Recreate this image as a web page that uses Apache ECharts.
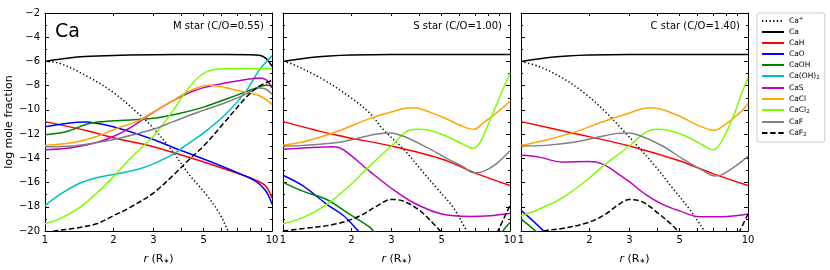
<!DOCTYPE html>
<html><head><meta charset="utf-8">
<script src="https://cdn.jsdelivr.net/npm/echarts@6/dist/echarts.min.js"></script>
<style>html,body{margin:0;padding:0;background:#fff}#c{width:830px;height:270px}</style>
</head><body><div id="c"></div>
<script>
// ---- data: [r (R*), log mole fraction] ----
const speciesNames = ['Ca+','Ca','CaH','CaO','CaOH','Ca(OH)2','CaS','CaCl','CaCl2','CaF','CaF2'];
const panelTitles = ['M star (C/O=0.55)','S star (C/O=1.00)','C star (C/O=1.40)'];
const xTickValues = [1,2,3,4,5,6,7,8,9,10];
const xLabelValues = [1,2,3,5,10];

// M star
const M_CaPlus = [[1,-6],[1.16,-6.15],[1.58,-7.36],[2,-8.56],[2.53,-10.17],[3,-11.5],[3.67,-13.5],[4.34,-15.4],[5.14,-17.0],[5.89,-18.6],[6.4,-20],[7,-21.5]];
const M_Ca = [[1,-6],[1.2,-5.78],[1.5,-5.6],[2,-5.5],[3,-5.45],[5,-5.43],[8,-5.45],[8.8,-5.48],[9.4,-5.75],[10,-6.4]];
const M_CaH = [[1,-10.97],[1.58,-11.78],[2,-12.3],[3,-13.04],[5,-14.3],[7.2,-15.3],[8.5,-15.8],[9.4,-16.3],[10,-17.3]];
const M_CaO = [[1,-11.4],[1.5,-11.0],[2,-11.4],[3,-12.45],[3.67,-13.1],[5,-14.05],[7.2,-15.26],[8.5,-15.9],[9.4,-16.7],[10,-17.8]];
const M_CaOH = [[1,-12.05],[1.25,-11.78],[1.58,-11.1],[2,-10.9],[3,-10.7],[3.9,-10.3],[5,-9.77],[6.3,-9.1],[7.7,-8.5],[9.1,-8.0],[9.6,-7.95],[10,-8.15]];
const M_CaOH2 = [[1,-17.9],[1.16,-17.0],[1.42,-16.06],[1.69,-15.6],[2,-15.34],[2.62,-14.86],[3,-14.46],[3.67,-13.65],[4.34,-12.7],[5,-11.9],[6.3,-10.3],[7.7,-8.43],[8.8,-6.7],[10,-5.54]];
const M_CaS = [[1,-13.3],[1.33,-13.1],[1.69,-12.7],[2,-12.2],[2.36,-11.5],[3,-10.2],[3.67,-9.23],[4.34,-8.56],[5,-8.16],[6.3,-7.76],[7.7,-7.49],[8.8,-7.36],[9.4,-7.5],[10,-8.16]];
const M_CaCl = [[1,-12.93],[1.33,-12.7],[1.69,-12.2],[2,-11.64],[2.62,-10.84],[3,-10.17],[3.67,-9.23],[4.34,-8.43],[5.3,-7.97],[6.2,-8.15],[7.2,-8.43],[8.8,-8.83],[10,-9.55]];
const M_CaCl2 = [[1,-19.4],[1.16,-19.0],[1.42,-18.07],[1.69,-16.87],[2,-15.53],[2.36,-14.05],[3,-12.18],[3.67,-10.04],[4.2,-8.43],[4.8,-7.22],[5.5,-6.69],[6.3,-6.61],[8,-6.61],[10,-6.61]];
const M_CaF = [[1,-13.04],[1.33,-12.98],[1.69,-12.7],[2,-12.45],[2.62,-11.9],[3,-11.6],[3.67,-10.97],[4.34,-10.44],[5,-10.04],[6.3,-9.37],[7.7,-8.7],[8.8,-8.2],[9.4,-8.3],[10,-8.7]];
const M_CaF2 = [[1,-20.2],[1.1,-20.0],[1.33,-19.8],[1.69,-19.4],[2,-18.74],[2.36,-18.07],[3,-16.87],[3.67,-15.4],[4.34,-14.05],[5,-12.98],[6.3,-10.84],[7.7,-8.96],[8.8,-8.03],[10,-7.57]];

// S star
const S_CaPlus = [[1,-6],[1.077,-6.15],[1.46,-7.36],[1.98,-8.96],[2.42,-10.3],[2.77,-11.64],[3.4,-13.25],[4.02,-14.86],[4.76,-16.47],[5.63,-18.07],[6.44,-20],[7,-21.3]];
const S_Ca = [[1,-6],[1.3,-5.7],[1.6,-5.55],[2,-5.47],[3,-5.43],[5,-5.43],[10,-5.43]];
const S_CaH = [[1,-10.97],[1.73,-12.1],[3,-12.98],[5,-14.05],[7,-15.2],[10,-16.25]];
const S_CaO = [[1,-15.4],[1.23,-16.3],[1.56,-17.8],[1.85,-18.74],[2.15,-20],[2.3,-20.6]];
const S_CaOH = [[1,-15.98],[1.23,-16.73],[1.56,-17.4],[1.91,-18.47],[2.42,-19.7],[2.5,-20],[2.7,-20.6],null,[9.0,-20.6],[9.3,-20],[10,-19.3]];
const S_CaS = [[1,-13.25],[1.23,-13.15],[1.67,-13.04],[1.85,-13.3],[2.42,-15.1],[3,-16.47],[3.76,-17.67],[5,-18.6],[6.67,-18.8],[8.15,-18.74],[10,-18.53]];
const S_CaCl = [[1,-12.9],[1.23,-12.63],[1.73,-11.78],[2.42,-10.7],[3,-10.17],[3.63,-9.82],[4.02,-9.9],[5,-10.57],[6.23,-11.38],[6.95,-11.6],[7.6,-11.1],[9,-10.04],[10,-9.29]];
const S_CaCl2 = [[1,-19.4],[1.23,-18.88],[1.56,-17.8],[1.98,-16.2],[2.42,-14.6],[3,-12.98],[3.51,-11.78],[3.88,-11.6],[4.45,-11.7],[5.26,-12.18],[6.23,-12.85],[6.88,-13.17],[7.37,-12.7],[8.17,-10.84],[9,-8.96],[10,-6.96]];
const S_CaF = [[1,-12.98],[1.23,-12.93],[1.73,-12.7],[2.19,-12.3],[2.59,-12.0],[2.96,-11.9],[3.4,-12.18],[4.3,-13.1],[5.26,-14.0],[6.23,-14.7],[6.88,-15.2],[7.6,-15.1],[8.7,-14.46],[10,-13.38]];
const S_CaF2 = [[1,-20],[1.23,-19.8],[1.73,-19.4],[2.19,-18.74],[2.59,-17.94],[3,-17.4],[3.4,-17.54],[4.02,-18.34],[4.6,-19.4],[4.93,-20],[5.3,-20.8],null,[8.5,-20.8],[8.85,-20],[10,-17.9]];

// C star
const C_CaPlus = [[1,-6],[1.2,-6.42],[1.52,-7.36],[1.93,-8.7],[2.36,-10.17],[2.8,-11.64],[3.31,-13.12],[3.93,-14.72],[4.66,-16.47],[5.52,-18.2],[6.43,-20],[7,-21.2]];
const C_Ca = [[1,-6],[1.3,-5.7],[1.6,-5.55],[2,-5.47],[3,-5.43],[5,-5.43],[10,-5.43]];
const C_CaH = [[1,-10.97],[1.68,-11.9],[3,-12.98],[4.98,-14.2],[7,-15.26],[10,-16.25]];
const C_CaO = [[1,-18.3],[1.12,-19.1],[1.26,-20],[1.4,-20.7]];
const C_CaOH = [[1,-19.0],[1.16,-20],[1.3,-20.8]];
const C_CaS = [[1,-13.73],[1.2,-13.9],[1.52,-14.3],[1.99,-14.27],[2.28,-14.46],[2.61,-15.13],[3,-15.93],[3.55,-17.0],[4.2,-17.8],[5,-18.34],[6.1,-18.82],[7.7,-18.82],[10,-18.6]];
const C_CaCl = [[1,-12.93],[1.28,-12.5],[1.68,-11.9],[2.36,-10.9],[3,-10.25],[3.67,-9.82],[4.06,-9.9],[4.98,-10.5],[6.1,-11.32],[7.1,-11.7],[7.7,-11.38],[9.2,-10.25],[10,-9.5]];
const C_CaCl2 = [[1,-18.74],[1.2,-18.2],[1.52,-17.27],[1.99,-15.66],[2.36,-14.46],[3,-12.98],[3.55,-11.83],[3.93,-11.6],[4.5,-11.7],[5.33,-12.18],[6.31,-12.9],[7,-13.3],[7.6,-12.7],[8.6,-10.57],[9.35,-8.7],[10,-7.36]];
const C_CaF = [[1,-12.98],[1.28,-12.93],[1.68,-12.7],[2.13,-12.3],[2.61,-11.96],[2.94,-11.9],[3.31,-12.1],[4.2,-12.98],[5.16,-14.05],[6.31,-15.0],[7.1,-15.45],[7.7,-15.34],[8.87,-14.6],[10,-13.84]];
const C_CaF2 = [[1,-20.8],[1.26,-20],[1.52,-19.8],[1.99,-19.28],[2.36,-18.6],[2.7,-17.8],[3,-17.4],[3.43,-17.6],[4.06,-18.6],[4.66,-19.55],[4.9,-20],[5.3,-20.8],null,[8.8,-20.8],[9.2,-20],[10,-18.6]];

const panelData = [
  [M_CaPlus,M_Ca,M_CaH,M_CaO,M_CaOH,M_CaOH2,M_CaS,M_CaCl,M_CaCl2,M_CaF,M_CaF2],
  [S_CaPlus,S_Ca,S_CaH,S_CaO,S_CaOH,null,S_CaS,S_CaCl,S_CaCl2,S_CaF,S_CaF2],
  [C_CaPlus,C_Ca,C_CaH,C_CaO,C_CaOH,null,C_CaS,C_CaCl,C_CaCl2,C_CaF,C_CaF2]
];

// ---- styles ----
const colors = ['#000000','#000000','#ff0000','#0000ff','#008000','#00bfbf','#bf00bf','#ffa500','#7cfc00','#808080','#000000'];
const lineTypes = [[1.3,2.4],'solid','solid','solid','solid','solid','solid','solid','solid','solid',[5.5,2.6]];
const legendRich = {'Ca+':'Ca{sup|+}','Ca(OH)2':'Ca(OH){sub|2}','CaCl2':'CaCl{sub|2}','CaF2':'CaF{sub|2}'};

const FONT = 'DejaVu Sans';
const gridLefts = [45, 283, 521];
const PW = 227, PT = 13, PH = 224;

const grids = [], xAxes = [], yAxes = [], series = [], titles = [];
const axisLineStyle = {color:'#000', width:1};
gridLefts.forEach((left, i) => {
  grids.push({left:left, top:PT, width:PW, height:PH, containLabel:false});
  const baseX = {
    type:'log', logBase:10, min:1, max:10, gridIndex:i,
    axisLine:{show:true, onZero:false, lineStyle:axisLineStyle},
    axisTick:{show:true, inside:true, length:3, lineStyle:axisLineStyle, customValues:xTickValues},
    splitLine:{show:false}, minorTick:{show:false}
  };
  xAxes.push(Object.assign({}, baseX, {
    position:'bottom',
    axisLabel:{show:true, customValues:xLabelValues, margin:4, color:'#000', fontFamily:FONT, fontSize:10},
    name:'{it|r} (R{sub|∗})', nameLocation:'middle', nameGap:22,
    nameTextStyle:{color:'#000', fontFamily:FONT, fontSize:11,
      rich:{it:{fontStyle:'italic', fontFamily:FONT, fontSize:11, color:'#000'},
            sub:{fontSize:7, fontFamily:FONT, color:'#000', padding:[5,0,0,0]}}}
  }));
  xAxes.push(Object.assign({}, baseX, {position:'top', axisLabel:{show:false}}));
  const baseY = {
    type:'value', min:-20, max:-2, interval:2, gridIndex:i,
    axisLine:{show:true, onZero:false, lineStyle:axisLineStyle},
    axisTick:{show:true, inside:true, length:4, lineStyle:axisLineStyle},
    minorTick:{show:true, splitNumber:2, length:2, lineStyle:axisLineStyle},
    splitLine:{show:false}
  };
  yAxes.push(Object.assign({}, baseY, {
    position:'left',
    axisLabel:{show:i===0, margin:5, color:'#000', fontFamily:FONT, fontSize:10,
      formatter:v => String(v).replace('-', '\u2212')},
    name: i===0 ? 'log mole fraction' : '', nameLocation:'middle', nameGap:29,
    nameTextStyle:{color:'#000', fontFamily:FONT, fontSize:11}
  }));
  yAxes.push(Object.assign({}, baseY, {position:'right', axisLabel:{show:false}}));

  panelData[i].forEach((d, k) => {
    if (!d) return;
    series.push({
      type:'line', name:speciesNames[k], xAxisIndex:2*i, yAxisIndex:2*i,
      data:d, smooth:0.35, symbol:'none', showSymbol:false, clip:true,
      connectNulls:false, silent:true, animation:false,
      lineStyle:{color:colors[k], width:1.5, type:lineTypes[k]},
      itemStyle:{color:colors[k]}
    });
  });

  titles.push({text:panelTitles[i], right:830-(left+PW)+8, top:21, padding:0,
    textStyle:{fontFamily:FONT, fontSize:10, fontWeight:'normal', color:'#000'}});
});
titles.push({text:'Ca', left:55, top:23, padding:0,
  textStyle:{fontFamily:FONT, fontSize:19, fontWeight:'normal', color:'#000'}});

const option = {
  animation:false,
  backgroundColor:'#fff',
  title:titles,
  grid:grids, xAxis:xAxes, yAxis:yAxes, series:series,
  legend:{
    orient:'vertical', left:757, top:13, data:speciesNames,
    itemWidth:22, itemHeight:9, itemGap:3,
    padding:[3,5,4,4], borderColor:'#cccccc', borderWidth:1, borderRadius:2,
    backgroundColor:'#fff', selectedMode:false,
    itemStyle:{color:'rgba(0,0,0,0)', borderWidth:0, opacity:0},
    formatter:n => legendRich[n] || n,
    textStyle:{fontFamily:FONT, fontSize:7.5, color:'#000',
      rich:{sup:{fontSize:5.5, fontFamily:FONT, color:'#000', padding:[0,0,4,0]},
            sub:{fontSize:5.5, fontFamily:FONT, color:'#000', padding:[4,0,0,0]}}}
  }
};
const chart = echarts.init(document.getElementById('c'), null, {renderer:'canvas'});
chart.setOption(option);
</script></body></html>
